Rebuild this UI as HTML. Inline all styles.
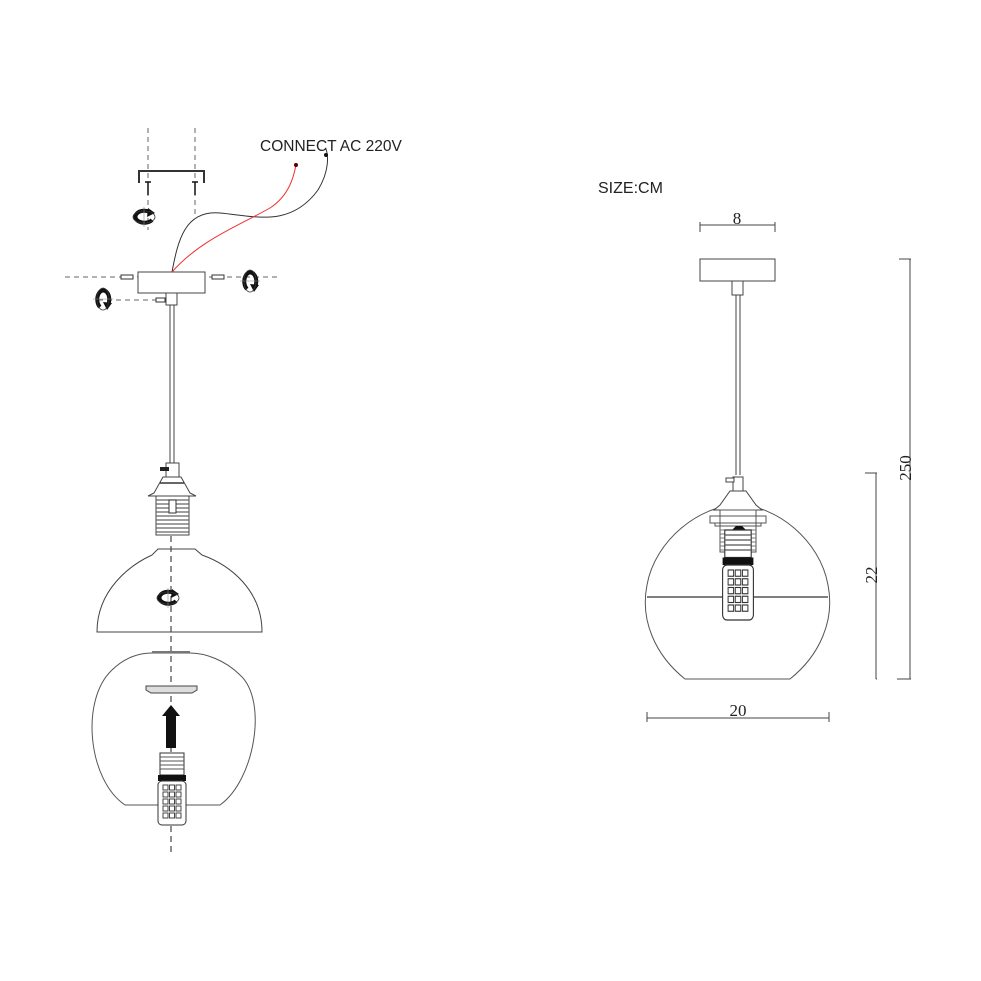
<!DOCTYPE html>
<html><head><meta charset="utf-8"><style>
html,body{margin:0;padding:0;background:#fff;width:981px;height:981px;overflow:hidden}
svg{display:block}
text{font-family:"Liberation Serif",serif;fill:#222}
</style></head><body>
<svg width="981" height="981" viewBox="0 0 981 981" xmlns="http://www.w3.org/2000/svg">
<defs>
<g id="rot">
<path d="M6,-5 A9,6 0 1 0 8,3" fill="none" stroke="#111" stroke-width="4"/>
<path d="M4,-9 L11,-4 L3,0 Z" fill="#111"/>
<ellipse cx="0" cy="0" rx="11" ry="6" fill="none" stroke="#333" stroke-width="0.8"/>
<line x1="0" y1="-10" x2="0" y2="10" stroke="#888" stroke-width="0.6"/>
</g>
<g id="bulb">
<rect x="-12" y="0" width="24" height="22" fill="#fff" stroke="#333" stroke-width="1"/>
<g stroke="#555" stroke-width="1"><line x1="-12" y1="4" x2="12" y2="4"/><line x1="-12" y1="8" x2="12" y2="8"/><line x1="-12" y1="12" x2="12" y2="12"/><line x1="-12" y1="16" x2="12" y2="16"/></g>
<path d="M-14,22 L14,22 L14,28 L-14,28 Z" fill="#111"/>
<rect x="-14" y="28" width="28" height="44" rx="4" fill="#fff" stroke="#333" stroke-width="1"/>
<g fill="none" stroke="#333" stroke-width="0.9">
<rect x="-9" y="32" width="5" height="5"/><rect x="-2.5" y="32" width="5" height="5"/><rect x="4" y="32" width="5" height="5"/>
<rect x="-9" y="39" width="5" height="5"/><rect x="-2.5" y="39" width="5" height="5"/><rect x="4" y="39" width="5" height="5"/>
<rect x="-9" y="46" width="5" height="5"/><rect x="-2.5" y="46" width="5" height="5"/><rect x="4" y="46" width="5" height="5"/>
<rect x="-9" y="53" width="5" height="5"/><rect x="-2.5" y="53" width="5" height="5"/><rect x="4" y="53" width="5" height="5"/>
<rect x="-9" y="60" width="5" height="5"/><rect x="-2.5" y="60" width="5" height="5"/><rect x="4" y="60" width="5" height="5"/>
</g>
</g>
</defs>

<!-- LEFT -->
<g stroke="#666" stroke-width="1" stroke-dasharray="5,4" fill="none">
<line x1="148" y1="128" x2="148" y2="230"/>
<line x1="195" y1="128" x2="195" y2="215"/>
<line x1="65" y1="277" x2="280" y2="277"/>
<line x1="98" y1="300" x2="160" y2="300"/>
</g>
<path d="M139,183 V171 H204 V183" fill="none" stroke="#333" stroke-width="2"/>
<g stroke="#111" stroke-width="1.5"><line x1="148" y1="182" x2="148" y2="195"/><line x1="195" y1="182" x2="195" y2="195"/>
<line x1="145" y1="182" x2="151" y2="182"/><line x1="192" y1="182" x2="198" y2="182"/></g>
<use href="#rot" x="144" y="217"/>
<use href="#rot" x="250" y="281" transform="rotate(90 250 281)"/>
<use href="#rot" x="103" y="299" transform="rotate(90 103 299)"/>
<rect x="121" y="275" width="12" height="4" fill="#fff" stroke="#333"/>
<rect x="212" y="275" width="12" height="4" fill="#fff" stroke="#333"/>
<rect x="156" y="298" width="9" height="4" fill="#fff" stroke="#333"/>
<rect x="138" y="272" width="67" height="21" fill="#fff" stroke="#444"/>
<rect x="166" y="293" width="11" height="12" fill="#fff" stroke="#444"/>
<path d="M172,272 C178,240 185,210 220,213 C255,216 290,228 318,190 C330,170 328,155 326,149" fill="none" stroke="#333" stroke-width="1"/>
<path d="M172,272 C200,240 240,225 270,208 C290,195 294,175 296,165" fill="none" stroke="#e33" stroke-width="1"/>
<circle cx="296" cy="165" r="2" fill="#500"/><circle cx="326" cy="155" r="2" fill="#111"/>
<text x="260" y="151" style="font-family:'Liberation Sans',sans-serif;font-size:15.5px" fill="#111">CONNECT AC 220V</text>
<line x1="170" y1="305" x2="170" y2="463" stroke="#444"/><line x1="174" y1="305" x2="174" y2="463" stroke="#444"/>
<!-- socket -->
<rect x="166" y="463" width="13" height="14" fill="#fff" stroke="#444"/>
<rect x="160" y="467" width="9" height="4" fill="#222"/>
<path d="M163,477 H181 L190,493 L196,496 H148 L154,493 Z" fill="#fff" stroke="#444"/>
<line x1="160" y1="483" x2="184" y2="483" stroke="#333" stroke-width="1.5"/>
<rect x="156" y="496" width="33" height="39" fill="#fff" stroke="#444"/>
<g stroke="#666" stroke-width="1.2"><line x1="156" y1="500" x2="189" y2="500"/><line x1="156" y1="504" x2="189" y2="504"/><line x1="156" y1="508" x2="189" y2="508"/><line x1="156" y1="512" x2="189" y2="512"/><line x1="156" y1="516" x2="189" y2="516"/><line x1="156" y1="520" x2="189" y2="520"/><line x1="156" y1="524" x2="189" y2="524"/><line x1="156" y1="528" x2="189" y2="528"/><line x1="156" y1="532" x2="189" y2="532"/></g>
<rect x="169" y="500" width="7" height="13" fill="#fff" stroke="#333"/>
<line x1="171" y1="536" x2="171" y2="855" stroke="#222" stroke-width="1" stroke-dasharray="6,4"/>
<!-- shield -->
<path d="M97,632 C97,590 130,565 152,555 L158,549 H195 L202,555 C230,565 262,590 262,632 Z" fill="none" stroke="#444"/>
<use href="#rot" x="168" y="598"/>
<!-- globe -->
<path d="M125,805 H220 C255,780 268,700 240,675 C225,660 205,653 190,653 H152 C140,653 125,657 112,670 C80,700 88,780 125,805 Z" fill="none" stroke="#555"/>
<line x1="152" y1="652" x2="190" y2="652" stroke="#777" stroke-width="2"/>
<path d="M146,686 H197 V690 L192,693 H151 L146,690 Z" fill="#ddd" stroke="#444"/>
<path d="M171,705 L180,716 H176 V748 H166 V716 H162 Z" fill="#111"/>
<use href="#bulb" x="172" y="753"/>

<!-- RIGHT -->
<text x="598" y="193" style="font-family:'Liberation Sans',sans-serif;font-size:16px" fill="#111">SIZE:CM</text>
<g stroke="#444" stroke-width="1" fill="none">
<line x1="700" y1="225" x2="775" y2="225"/><line x1="700" y1="222" x2="700" y2="232"/><line x1="775" y1="222" x2="775" y2="232"/>
<rect x="700" y="259" width="75" height="22"/>
<rect x="732" y="281" width="11" height="14"/>
<line x1="736" y1="295" x2="736" y2="475"/><line x1="740" y1="295" x2="740" y2="475"/>
<line x1="647" y1="718" x2="829" y2="718"/><line x1="647" y1="712" x2="647" y2="722"/><line x1="829" y1="712" x2="829" y2="722"/>
<line x1="910" y1="259" x2="910" y2="679"/><line x1="899" y1="259" x2="911" y2="259"/><line x1="897" y1="679" x2="911" y2="679"/>
<line x1="876" y1="473" x2="876" y2="679"/><line x1="865" y1="473" x2="877" y2="473"/><line x1="876" y1="679" x2="877" y2="679"/>
</g>
<text x="737" y="224" font-size="17" text-anchor="middle">8</text>
<text x="738" y="716" font-size="17" text-anchor="middle">20</text>
<text transform="translate(911,468) rotate(-90)" font-size="17" text-anchor="middle">250</text>
<text transform="translate(877,575) rotate(-90)" font-size="17" text-anchor="middle">22</text>
<!-- right globe -->
<path d="M685,679 C655,655 640,620 647,585 C655,540 700,505 738,505 C776,505 820,540 828,585 C835,620 820,655 790,679 Z" fill="none" stroke="#555"/>
<line x1="647" y1="597" x2="828" y2="597" stroke="#333" stroke-width="1.2"/>
<rect x="733" y="477" width="10" height="14" fill="#fff" stroke="#444"/>
<rect x="726" y="478" width="8" height="4" fill="#fff" stroke="#444"/>
<path d="M730,491 H746 L756,505 L762,510 H714 L720,505 Z" fill="#fff" stroke="#444"/>
<rect x="710" y="516" width="56" height="7" fill="#fff" stroke="#555"/>
<rect x="715" y="523" width="46" height="3" fill="#fff" stroke="#555"/>
<rect x="720" y="510" width="36" height="42" fill="none" stroke="#555"/>
<g stroke="#777"><line x1="720" y1="530" x2="756" y2="530"/><line x1="720" y1="534" x2="756" y2="534"/><line x1="720" y1="538" x2="756" y2="538"/><line x1="720" y1="542" x2="756" y2="542"/><line x1="720" y1="546" x2="756" y2="546"/><line x1="720" y1="550" x2="756" y2="550"/></g>
<path d="M732,530 L736,526 H742 L746,530 Z" fill="#111"/>
<g transform="translate(738,530) scale(1.1,1.25)"><use href="#bulb"/></g>
</svg>
</body></html>
